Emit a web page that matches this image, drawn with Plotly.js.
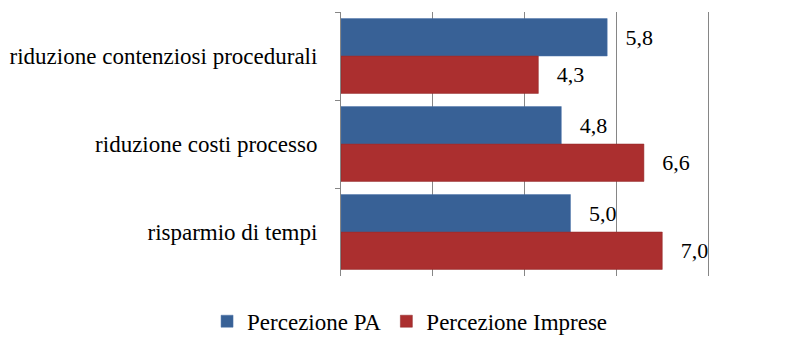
<!DOCTYPE html>
<html>
<head>
<meta charset="utf-8">
<script src="https://cdn.plot.ly/plotly-3.0.1.min.js"></script>
<style>html,body{margin:0;padding:0;background:#fff;}#chart{width:795px;height:337px;}</style>
</head>
<body>
<div id="chart"></div>
<script>
const categories = ["riduzione contenziosi procedurali", "riduzione costi processo", "risparmio di tempi"];
const seriesNames = ["Percezione PA", "Percezione Imprese"];
const valuesPA = [5.8, 4.8, 5.0];
const valuesImprese = [4.3, 6.6, 7.0];
const xTicks = [0, 2, 4, 6, 8];

const font = "'Liberation Serif', 'Times New Roman', serif";
const mk = (name, vals, color, line) => ({
  type: "bar", orientation: "h", name: name, x: vals, y: categories,
  marker: {color: color, line: {color: line, width: 0.5}},
  texttemplate: "\u2002\u2009%{x:.1f}", textposition: "outside", cliponaxis: false,
  textfont: {family: font, size: 22, color: "#000"},
  hoverinfo: "skip"
});
const data = [
  mk(seriesNames[0], valuesPA, "#386196", "#4a73a8"),
  mk(seriesNames[1], valuesImprese, "#ab2f2f", "#8e2626")
];
const layout = {
  width: 795, height: 337,
  margin: {l: 341, r: 85, t: 12, b: 61, autoexpand: false},
  paper_bgcolor: "#fff", plot_bgcolor: "#fff",
  separators: ",.",
  barmode: "group", bargap: 0.15, bargroupgap: 0,
  font: {family: font, size: 22, color: "#000"},
  xaxis: {range: [0, 8.04], tickvals: xTicks, showticklabels: false, showgrid: true,
          gridcolor: "#868686", gridwidth: 1, zeroline: false, showline: false, ticks: ""},
  yaxis: {autorange: "reversed", showline: true, linecolor: "#868686", linewidth: 1,
          ticks: "outside", tickson: "boundaries", ticklen: 5, tickcolor: "#868686",
          ticklabelstandoff: 18, showgrid: false, tickfont: {family: font, size: 23, color: "#000"}},
  showlegend: true,
  legend: {orientation: "h", x: -0.363, xanchor: "left", y: -0.09, yanchor: "top",
           font: {family: font, size: 23, color: "#000"}, itemwidth: 30, traceorder: "normal"}
};
Plotly.newPlot("chart", data, layout, {staticPlot: true, displayModeBar: false});
</script>
</body>
</html>
